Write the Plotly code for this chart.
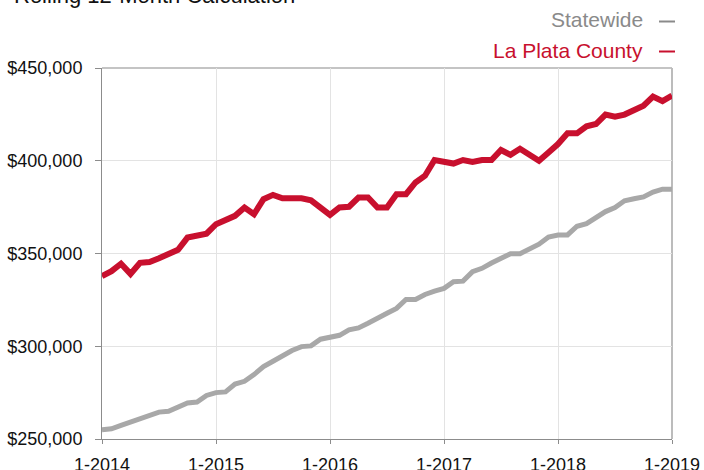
import plotly.graph_objects as go

tick_labels = ["1-2014", "1-2015", "1-2016", "1-2017", "1-2018", "1-2019"]
months = list(range(61))

statewide = [255, 255.5, 257.3, 259.1, 260.2, 262.2, 264.5, 264.9, 267, 269.4, 269.9, 273.5,
             275, 275.4, 279.6, 281.1, 284.7, 289, 291.9, 294.8, 297.7, 299.8, 300.2, 303.8,
             304.9, 305.9, 308.8, 309.9, 312.4, 314.8, 317.8, 320.4, 325.2, 325.2, 327.9, 329.7,
             331.2, 334.8, 335.1, 340.2, 342, 344.9, 347.7, 349.9, 349.9, 352.8, 355, 358.9,
             360, 360, 364.7, 366.1, 369.7, 372.6, 374.8, 378.4, 379.5, 380.5, 383.1, 384.7, 384.7]
la_plata = [337.8, 340.5, 344.5, 339, 345, 345.4, 347.4, 349.6, 352, 358.6, 360, 360.7,
            365.8, 368.1, 370.3, 374.8, 371.2, 379.3, 381.6, 379.8, 379.8, 379.8, 378.7, 374.8,
            370.8, 374.8, 375.2, 380.2, 380.2, 374.8, 374.8, 382, 382, 388.3, 391.9, 400.4,
            399.7, 398.5, 400.4, 399.3, 400.4, 400.4, 405.8, 403.2, 406.5, 403.2, 400, 404.5,
            409, 414.8, 414.8, 418.6, 419.8, 424.9, 423.8, 424.9, 427.4, 429.7, 434.6, 432.1, 435.1]
statewide = [v * 1000 for v in statewide]
la_plata = [v * 1000 for v in la_plata]

RED = "#c8102e"
GRAY_LINE = "#a8a8a8"
GRAY_TEXT = "#8a8a8a"
FONT = "Liberation Sans, Arial, Helvetica, sans-serif"

# plot area in pixels (for placing decorative text outside the axes)
L, R, T, B = 102, 672, 68, 439
W, H = R - L, B - T


def px(x):
    return (x - L) / W


def py(y):
    return (B - y) / H


fig = go.Figure()
fig.add_trace(go.Scatter(x=months, y=statewide, mode="lines", name="Statewide",
                         line=dict(color=GRAY_LINE, width=5), hoverinfo="skip"))
fig.add_trace(go.Scatter(x=months, y=la_plata, mode="lines", name="La Plata County",
                         line=dict(color=RED, width=6), hoverinfo="skip"))

fig.update_layout(
    width=704, height=470,
    margin=dict(l=L, r=704 - R, t=T, b=470 - B),
    paper_bgcolor="white", plot_bgcolor="white",
    showlegend=False,
    font=dict(family=FONT, size=18, color="#111"),
    xaxis=dict(range=[0, 60], tickvals=[0, 12, 24, 36, 48, 60], ticktext=tick_labels,
               showgrid=True, gridcolor="#e3e3e3", gridwidth=1,
               showline=True, linecolor="#8c8c8c", linewidth=1,
               ticks="outside", ticklen=4, tickcolor="#8c8c8c", ticklabelstandoff=5,
               tickfont=dict(size=18, color="#111"), zeroline=False, fixedrange=True,
               automargin=False),
    yaxis=dict(range=[250000, 450000], tickvals=[250000, 300000, 350000, 400000, 450000],
               tickformat="$,.0f",
               showgrid=True, gridcolor="#e3e3e3", gridwidth=1,
               showline=True, linecolor="#8c8c8c", linewidth=1,
               ticks="outside", ticklen=6, tickcolor="#8c8c8c", ticklabelstandoff=9,
               tickfont=dict(size=18, color="#111"), zeroline=False, fixedrange=True,
               automargin=False),
    shapes=[
        dict(type="line", xref="paper", yref="paper", x0=0, x1=1, y0=1, y1=1,
             line=dict(color="#c4c4c4", width=2), layer="below"),
        dict(type="line", xref="paper", yref="paper", x0=1, x1=1, y0=0, y1=1,
             line=dict(color="#bcbcbc", width=2), layer="below"),
        dict(type="line", xref="paper", yref="paper", x0=px(659), x1=px(675),
             y0=py(21.5), y1=py(21.5), line=dict(color=GRAY_TEXT, width=2)),
        dict(type="line", xref="paper", yref="paper", x0=px(659), x1=px(675),
             y0=py(51.5), y1=py(51.5), line=dict(color=RED, width=2)),
    ],
    annotations=[
        dict(text="Rolling 12-Month Calculation", xref="paper", yref="paper",
             x=px(12), y=py(-5), xanchor="left", yanchor="middle", showarrow=False,
             font=dict(size=22, color="#111")),
        dict(text="Statewide", xref="paper", yref="paper",
             x=px(645), y=py(19.5), xanchor="right", yanchor="middle", showarrow=False,
             font=dict(size=21, color=GRAY_TEXT)),
        dict(text="La Plata County", xref="paper", yref="paper",
             x=px(645), y=py(50), xanchor="right", yanchor="middle", showarrow=False,
             font=dict(size=21, color=RED)),
    ],
)

fig.write_html("out.html", config={"displayModeBar": False},
               post_script="document.body.style.margin='0';")
